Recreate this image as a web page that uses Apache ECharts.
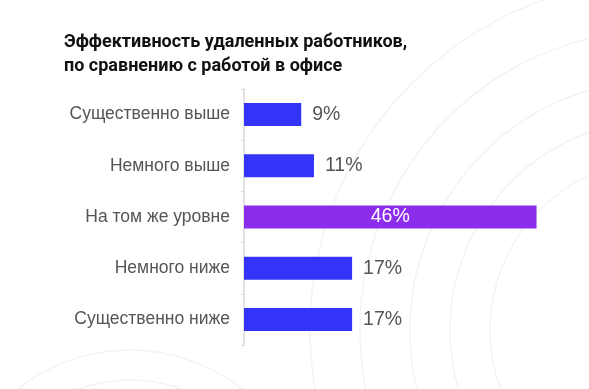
<!DOCTYPE html>
<html>
<head>
<meta charset="utf-8">
<script src="https://cdn.jsdelivr.net/npm/echarts@6/dist/echarts.min.js"></script>
<style>html,body{margin:0;padding:0;background:#fff}#c{width:589px;height:389px}</style>
</head>
<body>
<div id="c"></div>
<script>
const titleText = 'Эффективность удаленных работников,\nпо сравнению с работой в офисе';
const categories = ['Существенно выше', 'Немного выше', 'На том же уровне', 'Немного ниже', 'Существенно ниже'];
const values = [9, 11, 46, 17, 17];
const highlight = [false, false, true, false, false];

const BLUE = '#3434F8';
const PURPLE = '#8C2DEB';
const chart = echarts.init(document.getElementById('c'), null, {renderer: 'canvas'});

const arcs = [];
[[130, 530, 150], [130, 530, 180], [660, 330, 170], [660, 330, 210], [660, 330, 250], [660, 330, 300], [660, 330, 350]].forEach(a => {
  arcs.push({type: 'circle', z: -10, silent: true, shape: {cx: a[0], cy: a[1], r: a[2]}, style: {fill: 'none', stroke: '#f3f3f3', lineWidth: 1.5}});
});

chart.setOption({
  backgroundColor: '#fff',
  animation: false,
  graphic: arcs,
  title: {
    text: titleText,
    left: 59, top: 25,
    textStyle: {fontFamily: 'Roboto', fontWeight: 'bold', fontSize: 18, color: '#111', lineHeight: 24}
  },
  grid: {left: 244, right: 27, top: 89, bottom: 44},
  xAxis: {type: 'value', min: 0, max: 50, show: false},
  yAxis: {
    type: 'category', data: categories, inverse: true,
    axisLine: {show: true, lineStyle: {color: '#d9d9d9', width: 1.5}},
    axisTick: {show: true, length: 3, lineStyle: {color: '#d9d9d9'}},
    axisLabel: {margin: 14, fontFamily: 'Liberation Sans', fontSize: 17.5, color: '#555'}
  },
  series: [{
    type: 'bar',
    barWidth: 23,
    data: values.map((v, i) => ({
      value: v,
      itemStyle: {color: highlight[i] ? PURPLE : BLUE},
      label: highlight[i]
        ? {show: true, position: 'inside', color: '#fff', fontFamily: 'Liberation Sans', fontSize: 19.5, formatter: '{c}%'}
        : {show: true, position: 'right', distance: 11, color: '#555', fontFamily: 'Liberation Sans', fontSize: 19.5, formatter: '{c}%'}
    }))
  }]
});
</script>
</body>
</html>
